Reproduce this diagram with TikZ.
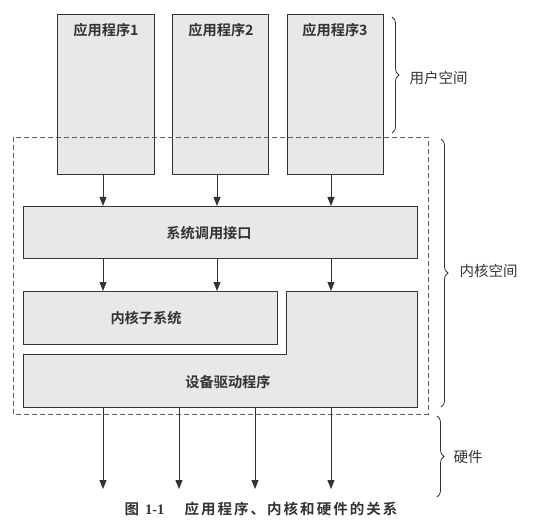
\documentclass[tikz,border=0pt]{standalone}
\usepackage{fontspec}
\setmainfont{Liberation Serif}
\newfontfamily\cjk{Noto Sans CJK SC}[BoldFont={Noto Sans CJK SC Bold}]
\newfontfamily\cjkcap{Noto Sans CJK SC Bold}[LetterSpace=14]
\usetikzlibrary{arrows.meta,decorations.pathreplacing}
\definecolor{boxfill}{HTML}{E8E8E8}
\definecolor{ink}{HTML}{333333}
\tikzset{
  blk/.style={draw=ink,line width=1pt,fill=boxfill},
  lbl/.style={font=\cjk\bfseries\fontsize{14.2}{16}\selectfont,text=ink},
  side/.style={font=\cjk\fontsize{14.5}{16}\selectfont,text=ink,anchor=west},
  arr/.style={draw=ink,line width=0.9pt,-{Triangle[width=7pt,length=9pt]}},
  brc/.style={draw=ink,line width=0.8pt,decorate,decoration={brace,amplitude=7pt}},
  dashline/.style={draw=ink!80,line width=0.8pt,dash pattern=on 5pt off 3pt}
}
\begin{document}
\begin{tikzpicture}[x=1pt,y=-1pt]
\useasboundingbox (0,0) rectangle (540,529);
% application boxes
\node[blk,minimum width=97pt,minimum height=160pt,anchor=north west] (a1) at (57,14) {};
\node[blk,minimum width=96pt,minimum height=160pt,anchor=north west] (a2) at (172,14) {};
\node[blk,minimum width=96pt,minimum height=160pt,anchor=north west] (a3) at (287,14) {};
\node[lbl] (t1) at (106,30) {应用程序1};
\node[lbl] (t2) at (221,30) {应用程序2};
\node[lbl] (t3) at (335,30) {应用程序3};
% kernel dashed region
\draw[dashline] (13,137) rectangle (428,414);
% syscall
\node[blk,minimum width=394pt,minimum height=52pt,anchor=north west] (sc) at (23,206) {};
\node[lbl] (sct) at (209,233) {系统调用接口};
% kernel subsystem
\node[blk,minimum width=254pt,minimum height=53pt,anchor=north west] (ks) at (23,291) {};
\node[lbl] (kst) at (146,318) {内核子系统};
% device driver L shape
\draw[blk] (23,354) -- (286,354) -- (286,291) -- (417,291) -- (417,407) -- (23,407) -- cycle;
\node[lbl] (ddt) at (228,382) {设备驱动程序};
% arrows app -> syscall
\draw[arr] (103,174) -- (103,206);
\draw[arr] (217,174) -- (217,206);
\draw[arr] (331,174) -- (331,206);
% syscall -> lower
\draw[arr] (103,258) -- (103,291);
\draw[arr] (217,258) -- (217,291);
\draw[arr] (331,258) -- (331,291);
% hardware arrows
\coordinate (h1) at (103,489);
\coordinate (h2) at (179,489);
\coordinate (h3) at (255,489);
\coordinate (h4) at (331,489);
\draw[arr] (103,407) -- (h1);
\draw[arr] (179,407) -- (h2);
\draw[arr] (255,407) -- (h3);
\draw[arr] (331,407) -- (h4);
% braces
\draw[brc] (392,17) -- (392,133);
\node[side] (us) at (406,78) {用户空间};
\draw[brc] (441,139) -- (441,407);
\node[side] (kn) at (456,271) {内核空间};
\draw[brc] (437,416) -- (437,497);
\node[side] (hw) at (450,457) {硬件};
% caption
\node[font=\fontsize{14.5}{16}\selectfont,text=ink,anchor=west] (cap1) at (121,509) {{\cjkcap 图}\hspace{4pt}\textbf{1-1}};
\node[font=\fontsize{14.5}{16}\selectfont,text=ink,anchor=west] (cap2) at (181,509) {\cjkcap 应用程序、内核和硬件的关系};
\end{tikzpicture}
\end{document}
